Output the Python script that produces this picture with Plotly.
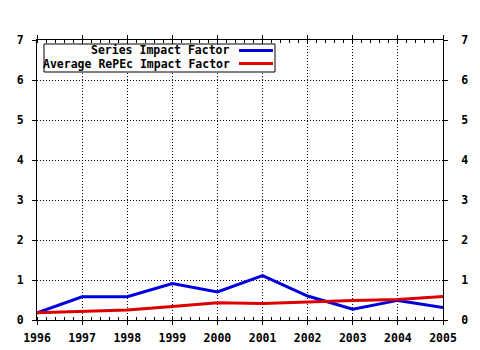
import plotly.graph_objects as go

years = [1996, 1997, 1998, 1999, 2000, 2001, 2002, 2003, 2004, 2005]
series_if = [0.18, 0.58, 0.58, 0.91, 0.70, 1.11, 0.60, 0.27, 0.49, 0.31]
avg_repec_if = [0.18, 0.22, 0.25, 0.34, 0.43, 0.41, 0.45, 0.49, 0.51, 0.59]
names = ["Series Impact Factor", "Average RePEc Impact Factor"]
colors = ["#0000DD", "#DD0000"]

FONT = dict(family="DejaVu Sans Mono", size=11.5, color="black", weight="bold")

fig = go.Figure()
fig.add_trace(go.Scatter(x=years, y=series_if, mode="lines", name=names[0],
                         line=dict(color=colors[0], width=3)))
fig.add_trace(go.Scatter(x=years, y=avg_repec_if, mode="lines", name=names[1],
                         line=dict(color=colors[1], width=3)))

W, H = 480, 350
L, R, T, B = 37, 37, 40, 30
pw, ph = W - L - R, H - T - B

def px(x):
    return (x - L) / pw

def py(y):
    return (H - B - y) / ph

# manual legend (text right, sample line on right)
fig.add_shape(type="rect", xref="paper", yref="paper",
              x0=px(44), x1=px(275), y0=py(72), y1=py(44),
              line=dict(color="black", width=1), fillcolor="white", layer="above")
for i, (nm, c, yy) in enumerate(zip(names, colors, [50.5, 63.5])):
    fig.add_shape(type="line", xref="paper", yref="paper",
                  x0=px(239), x1=px(273), y0=py(yy), y1=py(yy),
                  line=dict(color=c, width=3), layer="above")
    fig.add_annotation(xref="paper", yref="paper", x=px(232), y=py(yy),
                       text=nm, showarrow=False, xanchor="right", yanchor="middle",
                       font=FONT)

grid = dict(showgrid=True, gridcolor="black", griddash="1px,2px", gridwidth=1)

fig.update_layout(
    width=W, height=H,
    margin=dict(l=L, r=R, t=T, b=B, pad=0, autoexpand=False),
    paper_bgcolor="white", plot_bgcolor="white",
    showlegend=False,
    font=FONT,
    xaxis=dict(range=[1996, 2005], tickmode="array", tickvals=years,
               ticktext=[str(y) for y in years], automargin=False,
               ticks="outside", ticklen=4, tickcolor="black",
               minor=dict(ticks="inside", dtick=0.2, ticklen=3, tickcolor="black", showgrid=False),
               showline=True, linecolor="black", linewidth=1, mirror="ticks",
               zeroline=False, tickfont=FONT, ticklabelstandoff=3, **grid),
    yaxis=dict(range=[0, 7], dtick=1, ticks="outside", ticklen=4, tickcolor="black",
               showline=True, linecolor="black", linewidth=1, mirror=True, automargin=False,
               zeroline=False, tickfont=FONT, ticklabelstandoff=6, **grid),
    yaxis2=dict(range=[0, 7], dtick=1, overlaying="y", side="right", automargin=False,
                ticks="outside", ticklen=4, tickcolor="black",
                showline=False, showgrid=False, zeroline=False, tickfont=FONT,
                ticklabelstandoff=11),
)
fig.add_trace(go.Scatter(x=[years[0]], y=[None], yaxis="y2", showlegend=False,
                         hoverinfo="skip", mode="lines"))

fig.write_html("out.html")
